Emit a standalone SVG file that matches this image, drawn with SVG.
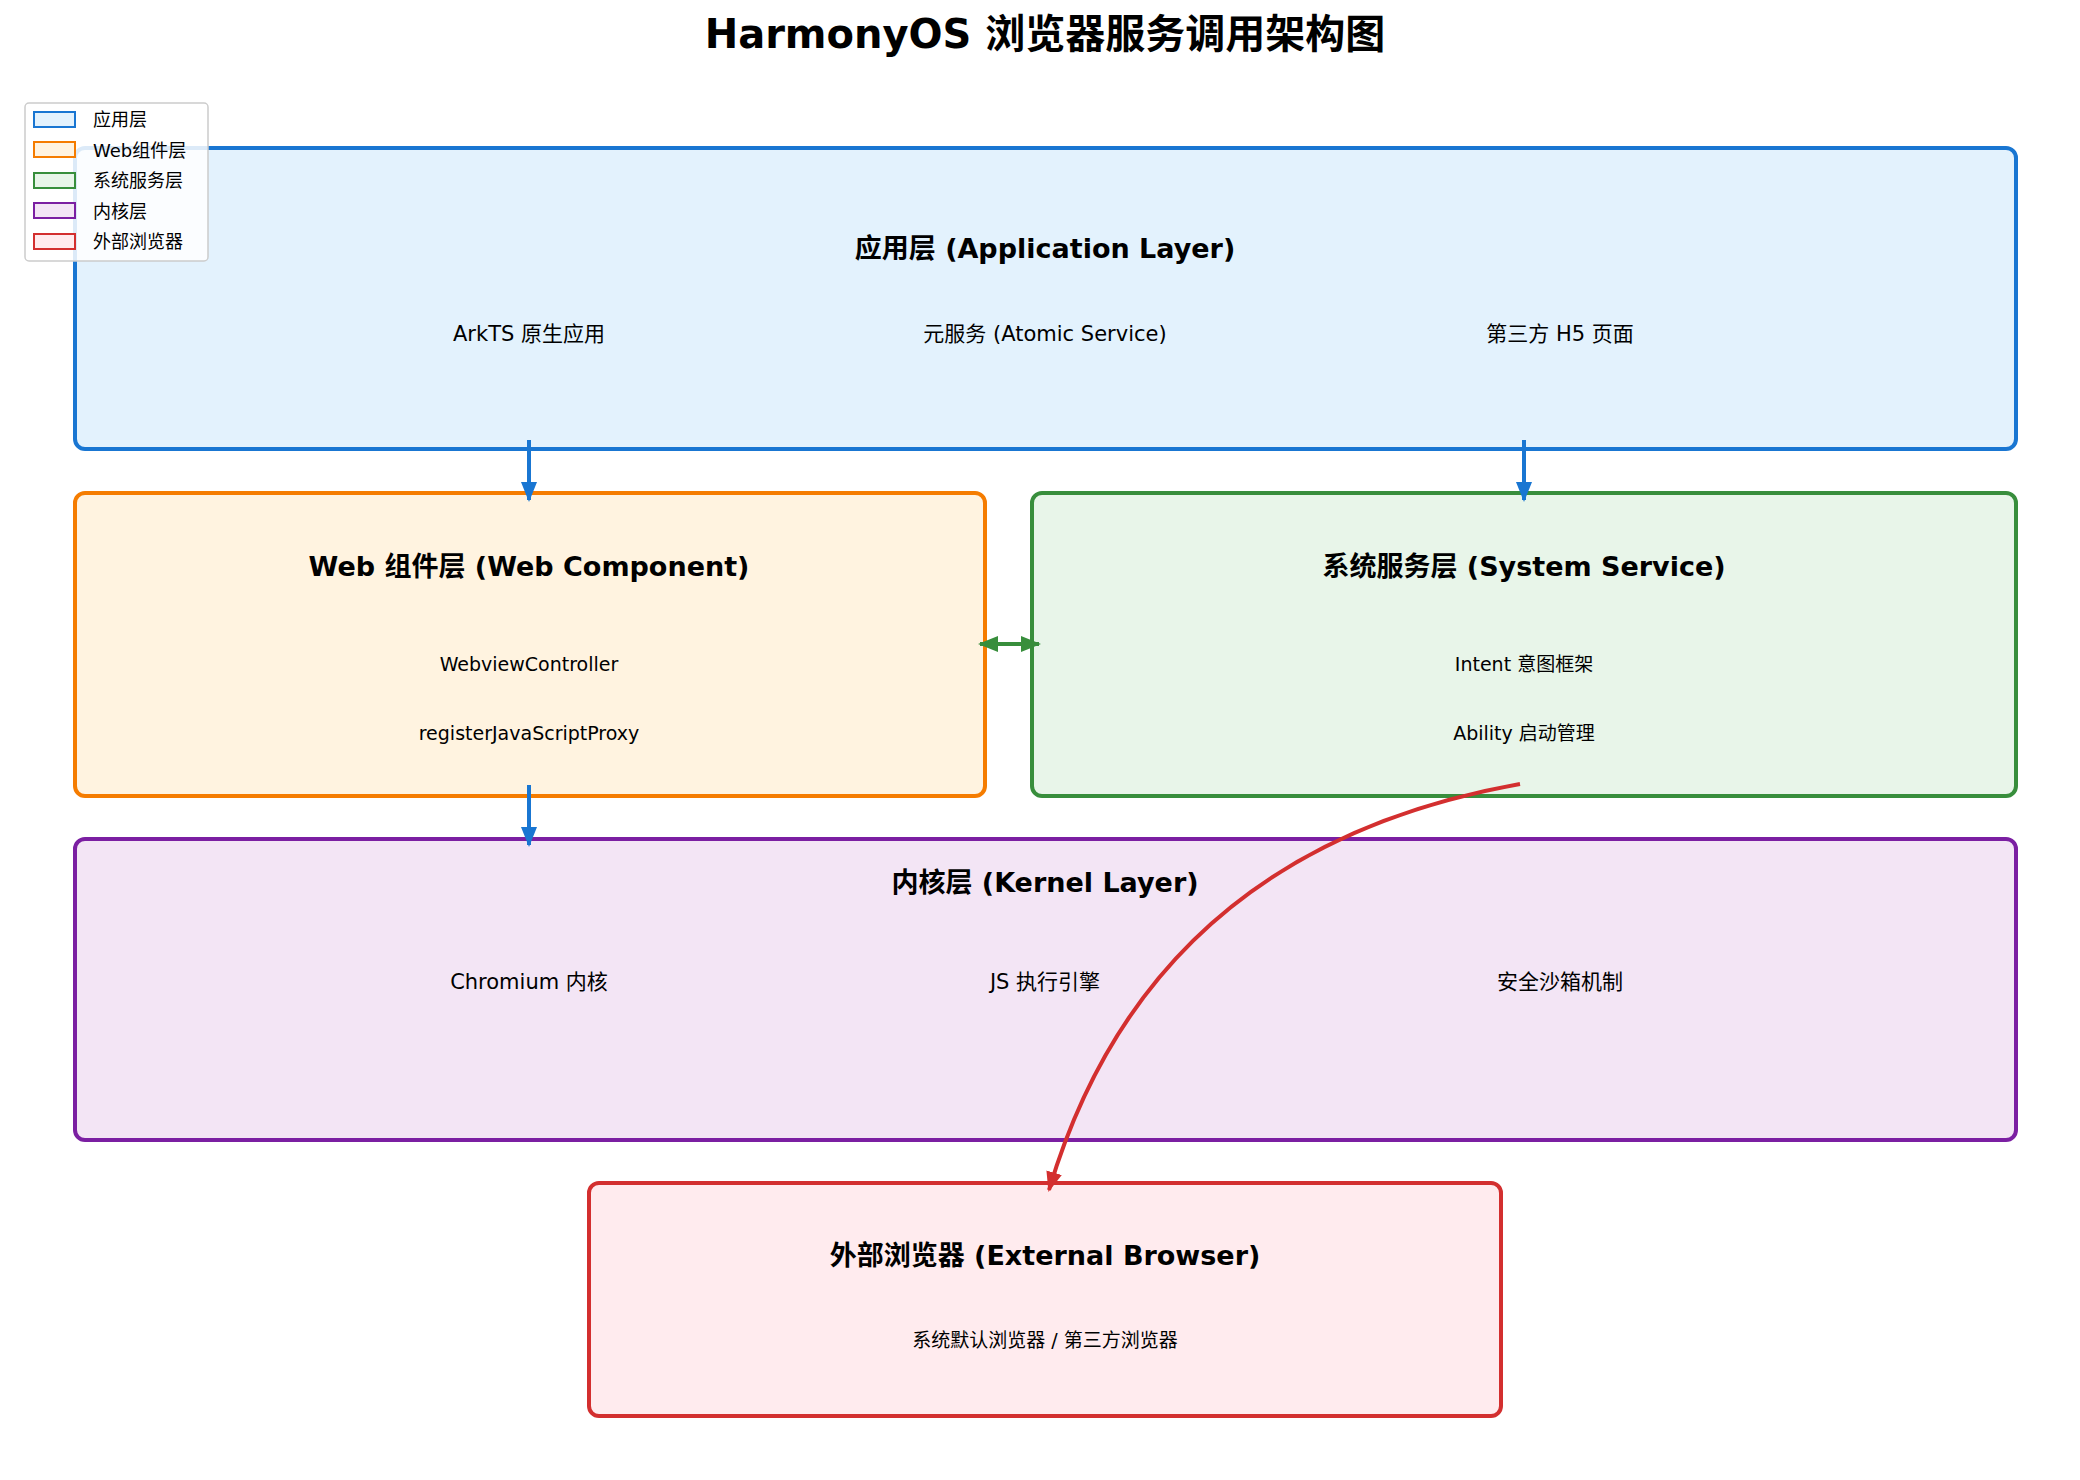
<svg xmlns="http://www.w3.org/2000/svg" width="2080" height="1480" viewBox="0 0 2080 1480">
<style>
text{font-family:"DejaVu Sans","Noto Sans CJK SC",sans-serif;text-anchor:middle;fill:#000}
.t{font-size:27px;font-weight:bold}
.i{font-size:21px}
.s{font-size:19px}
.box{stroke-width:4}
.lg{font-size:18px;text-anchor:start}
</style>
<defs>
<marker id="ab" viewBox="0 0 10 10" refX="9" refY="5" markerWidth="5" markerHeight="5" orient="auto-start-reverse"><path d="M0,1 L10,5 L0,9 Z" fill="#1976d2"/></marker>
<marker id="ag" viewBox="0 0 10 10" refX="9" refY="5" markerWidth="5" markerHeight="5" orient="auto-start-reverse"><path d="M0,1 L10,5 L0,9 Z" fill="#388e3c"/></marker>
<marker id="ar" viewBox="0 0 10 10" refX="9" refY="5" markerWidth="5" markerHeight="5" orient="auto-start-reverse"><path d="M0,1 L10,5 L0,9 Z" fill="#d32f2f"/></marker>
</defs>
<rect width="2080" height="1480" fill="#fff"/>
<text x="1045" y="48" style="font-size:40px;font-weight:bold">HarmonyOS 浏览器服务调用架构图</text>
<g id="app">
<rect class="box" x="75" y="148" width="1941" height="301" rx="10" fill="#e3f2fd" stroke="#1976d2"/>
<text class="t" x="1045" y="258">应用层 (Application Layer)</text>
<text class="i" x="529" y="341">ArkTS 原生应用</text>
<text class="i" x="1045" y="341">元服务 (Atomic Service)</text>
<text class="i" x="1560" y="341">第三方 H5 页面</text>
</g>
<g id="web">
<rect class="box" x="75" y="493" width="910" height="303" rx="10" fill="#fff3e0" stroke="#f57c00"/>
<text class="t" x="529" y="576">Web 组件层 (Web Component)</text>
<text class="s" x="529" y="671">WebviewController</text>
<text class="s" x="529" y="740">registerJavaScriptProxy</text>
</g>
<g id="sys">
<rect class="box" x="1032" y="493" width="984" height="303" rx="10" fill="#e8f5e9" stroke="#388e3c"/>
<text class="t" x="1524" y="576">系统服务层 (System Service)</text>
<text class="s" x="1524" y="671">Intent 意图框架</text>
<text class="s" x="1524" y="740">Ability 启动管理</text>
</g>
<g id="kernel">
<rect class="box" x="75" y="839" width="1941" height="301" rx="10" fill="#f3e5f5" stroke="#7b1fa2"/>
<text class="t" x="1045" y="892">内核层 (Kernel Layer)</text>
<text class="i" x="529" y="989">Chromium 内核</text>
<text class="i" x="1045" y="989">JS 执行引擎</text>
<text class="i" x="1560" y="989">安全沙箱机制</text>
</g>
<g id="external">
<rect class="box" x="589" y="1183" width="912" height="233" rx="10" fill="#ffebee" stroke="#d32f2f"/>
<text class="t" x="1045" y="1265">外部浏览器 (External Browser)</text>
<text class="s" x="1045" y="1347">系统默认浏览器 / 第三方浏览器</text>
</g>
<g id="connectors" fill="none" stroke-width="4">
<line x1="529" y1="440" x2="529" y2="500" stroke="#1976d2" marker-end="url(#ab)"/>
<line x1="1524" y1="440" x2="1524" y2="500" stroke="#1976d2" marker-end="url(#ab)"/>
<line x1="529" y1="785" x2="529" y2="845" stroke="#1976d2" marker-end="url(#ab)"/>
<line x1="980" y1="644" x2="1039" y2="644" stroke="#388e3c" marker-start="url(#ag)" marker-end="url(#ag)"/>
<path d="M1520,784 Q1150,850 1049,1190" stroke="#d32f2f" marker-end="url(#ar)"/>
</g>
<g id="legend">
<rect x="25" y="103" width="183" height="158" rx="4" fill="#fff" fill-opacity="0.85" stroke="#ccc" stroke-width="1.5"/>
<rect x="34" y="112" width="41" height="15" fill="#e3f2fd" stroke="#1976d2" stroke-width="2"/>
<rect x="34" y="142" width="41" height="15" fill="#fff3e0" stroke="#f57c00" stroke-width="2"/>
<rect x="34" y="173" width="41" height="15" fill="#e8f5e9" stroke="#388e3c" stroke-width="2"/>
<rect x="34" y="203" width="41" height="15" fill="#f3e5f5" stroke="#7b1fa2" stroke-width="2"/>
<rect x="34" y="234" width="41" height="15" fill="#ffebee" stroke="#d32f2f" stroke-width="2"/>
<text class="lg" x="93" y="126">应用层</text>
<text class="lg" x="93" y="157">Web组件层</text>
<text class="lg" x="93" y="187">系统服务层</text>
<text class="lg" x="93" y="218">内核层</text>
<text class="lg" x="93" y="248">外部浏览器</text>
</g>
</svg>
